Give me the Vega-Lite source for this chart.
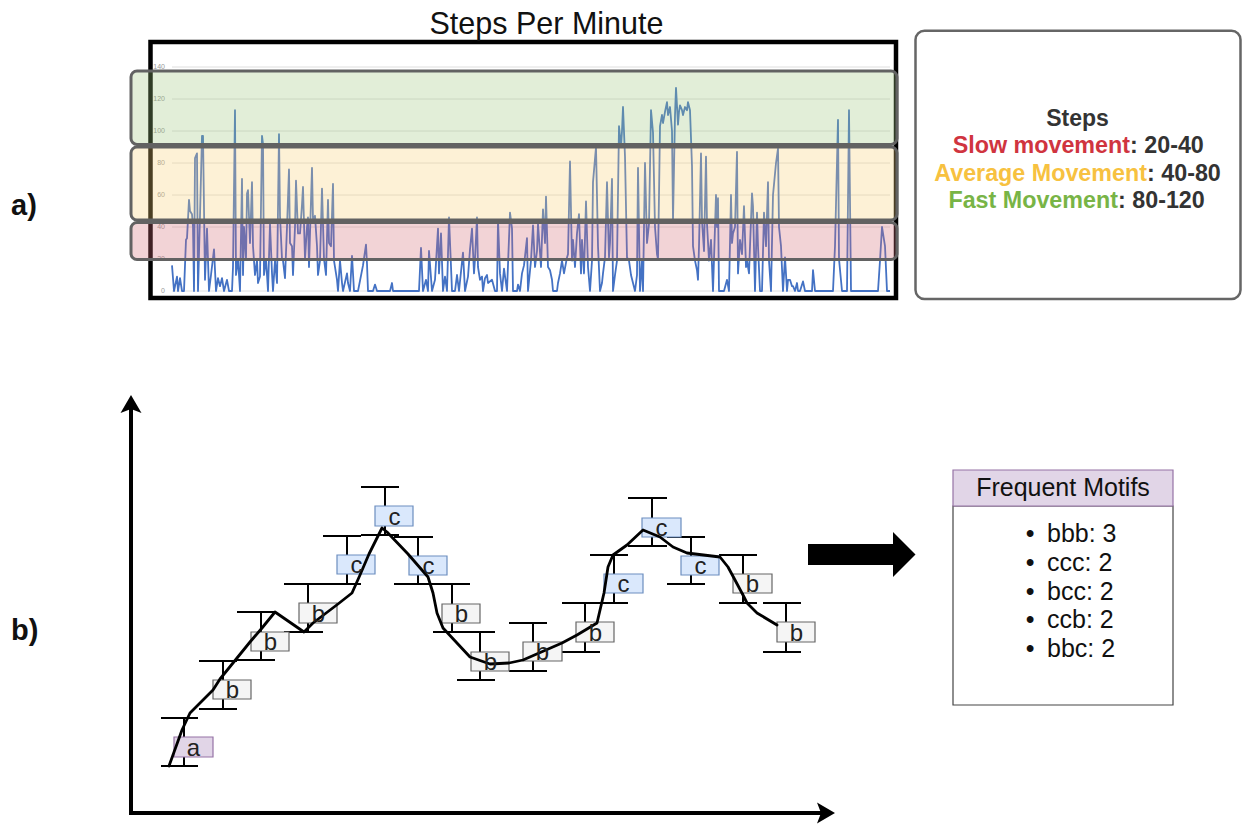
{
"$schema": "https://vega.github.io/schema/vega-lite/v6.json",
"width": 1244, "height": 824, "padding": 0, "autosize": {"type": "none"},
"background": "white",
"config": {"view": {"stroke": null}, "font": "Liberation Sans"},
"resolve": {"scale": {"x": "independent", "y": "independent", "color": "independent", "fill": "independent", "stroke": "independent"}},
"datasets": {
"steps": [
{"minute":0,"steps":16},{"minute":4,"steps":0},{"minute":10,"steps":9},{"minute":12,"steps":0},{"minute":16,"steps":8},{"minute":20,"steps":0},{"minute":24,"steps":0},{"minute":28,"steps":32},{"minute":30,"steps":33},{"minute":34,"steps":57},{"minute":36,"steps":50},{"minute":40,"steps":48},{"minute":42,"steps":40},{"minute":44,"steps":0},{"minute":46,"steps":83},{"minute":50,"steps":86},{"minute":52,"steps":0},{"minute":56,"steps":47},{"minute":60,"steps":97},{"minute":62,"steps":97},{"minute":66,"steps":7},{"minute":70,"steps":39},{"minute":74,"steps":0},{"minute":78,"steps":10},{"minute":84,"steps":26},{"minute":88,"steps":0},{"minute":92,"steps":8},{"minute":96,"steps":3},{"minute":100,"steps":8},{"minute":104,"steps":0},{"minute":110,"steps":7},{"minute":114,"steps":0},{"minute":120,"steps":0},{"minute":122,"steps":15},{"minute":126,"steps":113},{"minute":128,"steps":10},{"minute":132,"steps":20},{"minute":136,"steps":0},{"minute":140,"steps":70},{"minute":142,"steps":10},{"minute":144,"steps":40},{"minute":148,"steps":20},{"minute":150,"steps":61},{"minute":152,"steps":63},{"minute":156,"steps":30},{"minute":160,"steps":68},{"minute":162,"steps":28},{"minute":166,"steps":10},{"minute":170,"steps":19},{"minute":172,"steps":5},{"minute":176,"steps":9},{"minute":180,"steps":97},{"minute":182,"steps":92},{"minute":184,"steps":10},{"minute":188,"steps":20},{"minute":192,"steps":0},{"minute":196,"steps":42},{"minute":200,"steps":11},{"minute":202,"steps":0},{"minute":206,"steps":19},{"minute":210,"steps":5},{"minute":214,"steps":98},{"minute":216,"steps":47},{"minute":220,"steps":20},{"minute":222,"steps":19},{"minute":226,"steps":8},{"minute":230,"steps":40},{"minute":234,"steps":76},{"minute":236,"steps":30},{"minute":240,"steps":28},{"minute":242,"steps":10},{"minute":246,"steps":40},{"minute":248,"steps":69},{"minute":252,"steps":36},{"minute":256,"steps":36},{"minute":260,"steps":54},{"minute":262,"steps":65},{"minute":266,"steps":20},{"minute":270,"steps":40},{"minute":272,"steps":46},{"minute":274,"steps":15},{"minute":280,"steps":77},{"minute":282,"steps":44},{"minute":286,"steps":47},{"minute":290,"steps":28},{"minute":292,"steps":10},{"minute":296,"steps":19},{"minute":300,"steps":64},{"minute":304,"steps":20},{"minute":308,"steps":10},{"minute":312,"steps":57},{"minute":314,"steps":30},{"minute":318,"steps":28},{"minute":322,"steps":67},{"minute":324,"steps":19},{"minute":330,"steps":7},{"minute":332,"steps":0},{"minute":336,"steps":19},{"minute":340,"steps":5},{"minute":342,"steps":0},{"minute":350,"steps":11},{"minute":352,"steps":5},{"minute":356,"steps":0},{"minute":360,"steps":22},{"minute":364,"steps":0},{"minute":372,"steps":0},{"minute":382,"steps":16},{"minute":388,"steps":29},{"minute":390,"steps":17},{"minute":392,"steps":0},{"minute":402,"steps":0},{"minute":406,"steps":4},{"minute":410,"steps":0},{"minute":436,"steps":0},{"minute":440,"steps":5},{"minute":442,"steps":0},{"minute":494,"steps":0},{"minute":498,"steps":27},{"minute":502,"steps":0},{"minute":508,"steps":7},{"minute":512,"steps":0},{"minute":514,"steps":25},{"minute":520,"steps":0},{"minute":526,"steps":7},{"minute":532,"steps":39},{"minute":534,"steps":11},{"minute":538,"steps":36},{"minute":542,"steps":0},{"minute":546,"steps":9},{"minute":550,"steps":0},{"minute":554,"steps":46},{"minute":560,"steps":0},{"minute":566,"steps":0},{"minute":570,"steps":10},{"minute":574,"steps":0},{"minute":582,"steps":24},{"minute":586,"steps":0},{"minute":592,"steps":9},{"minute":596,"steps":26},{"minute":600,"steps":39},{"minute":604,"steps":11},{"minute":606,"steps":20},{"minute":610,"steps":46},{"minute":612,"steps":15},{"minute":616,"steps":7},{"minute":620,"steps":9},{"minute":622,"steps":0},{"minute":626,"steps":8},{"minute":630,"steps":10},{"minute":632,"steps":5},{"minute":640,"steps":7},{"minute":646,"steps":0},{"minute":650,"steps":0},{"minute":652,"steps":44},{"minute":656,"steps":11},{"minute":660,"steps":0},{"minute":664,"steps":14},{"minute":670,"steps":0},{"minute":676,"steps":49},{"minute":680,"steps":39},{"minute":682,"steps":0},{"minute":690,"steps":0},{"minute":692,"steps":4},{"minute":696,"steps":0},{"minute":700,"steps":11},{"minute":704,"steps":16},{"minute":710,"steps":33},{"minute":712,"steps":0},{"minute":718,"steps":19},{"minute":722,"steps":41},{"minute":726,"steps":15},{"minute":730,"steps":25},{"minute":732,"steps":42},{"minute":738,"steps":15},{"minute":742,"steps":51},{"minute":746,"steps":30},{"minute":748,"steps":59},{"minute":752,"steps":15},{"minute":756,"steps":13},{"minute":760,"steps":7},{"minute":762,"steps":0},{"minute":770,"steps":0},{"minute":772,"steps":5},{"minute":776,"steps":11},{"minute":780,"steps":19},{"minute":784,"steps":11},{"minute":790,"steps":21},{"minute":792,"steps":23},{"minute":796,"steps":81},{"minute":800,"steps":19},{"minute":802,"steps":32},{"minute":806,"steps":15},{"minute":810,"steps":36},{"minute":814,"steps":48},{"minute":818,"steps":11},{"minute":820,"steps":32},{"minute":824,"steps":11},{"minute":828,"steps":56},{"minute":832,"steps":15},{"minute":836,"steps":0},{"minute":840,"steps":19},{"minute":842,"steps":68},{"minute":848,"steps":90},{"minute":852,"steps":28},{"minute":856,"steps":0},{"minute":860,"steps":5},{"minute":862,"steps":11},{"minute":866,"steps":21},{"minute":870,"steps":68},{"minute":874,"steps":21},{"minute":876,"steps":30},{"minute":880,"steps":70},{"minute":882,"steps":0},{"minute":886,"steps":10},{"minute":890,"steps":19},{"minute":894,"steps":103},{"minute":898,"steps":90},{"minute":900,"steps":100},{"minute":902,"steps":115},{"minute":906,"steps":84},{"minute":910,"steps":21},{"minute":914,"steps":19},{"minute":918,"steps":10},{"minute":922,"steps":5},{"minute":926,"steps":0},{"minute":930,"steps":10},{"minute":932,"steps":77},{"minute":936,"steps":0},{"minute":940,"steps":19},{"minute":942,"steps":0},{"minute":946,"steps":80},{"minute":950,"steps":30},{"minute":954,"steps":42},{"minute":958,"steps":113},{"minute":962,"steps":99},{"minute":966,"steps":40},{"minute":970,"steps":23},{"minute":972,"steps":20},{"minute":974,"steps":60},{"minute":976,"steps":103},{"minute":980,"steps":110},{"minute":982,"steps":105},{"minute":986,"steps":112},{"minute":990,"steps":118},{"minute":992,"steps":110},{"minute":996,"steps":115},{"minute":1000,"steps":100},{"minute":1002,"steps":44},{"minute":1006,"steps":110},{"minute":1008,"steps":127},{"minute":1012,"steps":104},{"minute":1014,"steps":112},{"minute":1016,"steps":116},{"minute":1020,"steps":113},{"minute":1022,"steps":110},{"minute":1026,"steps":115},{"minute":1030,"steps":113},{"minute":1032,"steps":118},{"minute":1036,"steps":113},{"minute":1040,"steps":78},{"minute":1042,"steps":28},{"minute":1046,"steps":19},{"minute":1050,"steps":13},{"minute":1052,"steps":7},{"minute":1054,"steps":28},{"minute":1058,"steps":86},{"minute":1060,"steps":44},{"minute":1064,"steps":25},{"minute":1068,"steps":84},{"minute":1070,"steps":42},{"minute":1074,"steps":19},{"minute":1078,"steps":32},{"minute":1082,"steps":0},{"minute":1088,"steps":60},{"minute":1090,"steps":40},{"minute":1092,"steps":58},{"minute":1094,"steps":0},{"minute":1104,"steps":0},{"minute":1110,"steps":7},{"minute":1114,"steps":0},{"minute":1118,"steps":60},{"minute":1120,"steps":30},{"minute":1122,"steps":36},{"minute":1126,"steps":40},{"minute":1130,"steps":87},{"minute":1132,"steps":11},{"minute":1136,"steps":32},{"minute":1140,"steps":23},{"minute":1144,"steps":53},{"minute":1148,"steps":15},{"minute":1150,"steps":19},{"minute":1154,"steps":11},{"minute":1160,"steps":61},{"minute":1162,"steps":53},{"minute":1166,"steps":0},{"minute":1170,"steps":49},{"minute":1172,"steps":28},{"minute":1176,"steps":0},{"minute":1180,"steps":0},{"minute":1184,"steps":49},{"minute":1188,"steps":28},{"minute":1192,"steps":68},{"minute":1194,"steps":19},{"minute":1198,"steps":0},{"minute":1202,"steps":60},{"minute":1208,"steps":80},{"minute":1212,"steps":89},{"minute":1214,"steps":40},{"minute":1218,"steps":28},{"minute":1222,"steps":0},{"minute":1226,"steps":21},{"minute":1230,"steps":0},{"minute":1232,"steps":7},{"minute":1236,"steps":7},{"minute":1240,"steps":3},{"minute":1242,"steps":3},{"minute":1246,"steps":0},{"minute":1250,"steps":5},{"minute":1252,"steps":0},{"minute":1256,"steps":0},{"minute":1262,"steps":6},{"minute":1266,"steps":0},{"minute":1280,"steps":0},{"minute":1282,"steps":13},{"minute":1286,"steps":0},{"minute":1322,"steps":0},{"minute":1326,"steps":28},{"minute":1332,"steps":107},{"minute":1334,"steps":20},{"minute":1340,"steps":0},{"minute":1350,"steps":0},{"minute":1354,"steps":113},{"minute":1358,"steps":0},{"minute":1412,"steps":0},{"minute":1416,"steps":19},{"minute":1420,"steps":40},{"minute":1422,"steps":36},{"minute":1426,"steps":28},{"minute":1430,"steps":0},{"minute":1436,"steps":0}
],
"gridlines": [{"steps":0},{"steps":20},{"steps":40},{"steps":60},{"steps":80},{"steps":100},{"steps":120},{"steps":140}],
"bands": [
{"speed":"fast","low":91.6,"high":137.5},
{"speed":"average","low":44.4,"high":90},
{"speed":"slow","low":19.7,"high":42.8}
],
"symbols": [
{"letter":"a","t1":43,"t2":82,"b1":56,"b2":76,"et":53,"elo":47,"ehi":95,"c1":30,"c2":67},
{"letter":"b","t1":82,"t2":120,"b1":114,"b2":133,"et":92,"elo":104,"ehi":152,"c1":68,"c2":106},
{"letter":"b","t1":120,"t2":158,"b1":162,"b2":181,"et":130,"elo":153,"ehi":201,"c1":106,"c2":144},
{"letter":"b","t1":168,"t2":206,"b1":190,"b2":210,"et":177,"elo":181,"ehi":229,"c1":153,"c2":192},
{"letter":"c","t1":206,"t2":244,"b1":239,"b2":258,"et":216,"elo":229,"ehi":277,"c1":192,"c2":230},
{"letter":"c","t1":244,"t2":282,"b1":287,"b2":307,"et":254,"elo":278,"ehi":326,"c1":230,"c2":268},
{"letter":"c","t1":278,"t2":316,"b1":238,"b2":257,"et":287,"elo":229,"ehi":276,"c1":263,"c2":302},
{"letter":"b","t1":311,"t2":349,"b1":190,"b2":209,"et":321,"elo":181,"ehi":229,"c1":302,"c2":339},
{"letter":"b","t1":340,"t2":378,"b1":142,"b2":161,"et":349,"elo":133,"ehi":181,"c1":326,"c2":364},
{"letter":"b","t1":392,"t2":431,"b1":152,"b2":171,"et":402,"elo":142,"ehi":190,"c1":378,"c2":416},
{"letter":"b","t1":445,"t2":483,"b1":171,"b2":191,"et":454,"elo":161,"ehi":210,"c1":431,"c2":469},
{"letter":"c","t1":473,"t2":512,"b1":220,"b2":239,"et":483,"elo":210,"ehi":258,"c1":459,"c2":497},
{"letter":"c","t1":511,"t2":550,"b1":276,"b2":295,"et":521,"elo":267,"ehi":315,"c1":497,"c2":536},
{"letter":"c","t1":550,"t2":588,"b1":238,"b2":257,"et":560,"elo":229,"ehi":276,"c1":536,"c2":574},
{"letter":"b","t1":602,"t2":641,"b1":220,"b2":239,"et":612,"elo":210,"ehi":258,"c1":588,"c2":626},
{"letter":"b","t1":646,"t2":684,"b1":171,"b2":191,"et":655,"elo":161,"ehi":210,"c1":632,"c2":670}
],
"curve": [
{"t":38,"v":47},{"t":51,"v":83},{"t":59,"v":100},{"t":82,"v":123},{"t":89,"v":134},{"t":119,"v":171},{"t":131,"v":185},{"t":144,"v":201},{"t":173,"v":181},{"t":182,"v":190},{"t":207,"v":209},{"t":221,"v":220},{"t":229,"v":238},{"t":238,"v":259},{"t":251,"v":285},{"t":256,"v":281},{"t":277,"v":259},{"t":297,"v":236},{"t":302,"v":220},{"t":306,"v":200},{"t":312,"v":185},{"t":339,"v":156},{"t":359,"v":149},{"t":378,"v":150},{"t":392,"v":153},{"t":431,"v":170},{"t":446,"v":178},{"t":466,"v":190},{"t":473,"v":220},{"t":477,"v":246},{"t":482,"v":258},{"t":496,"v":268},{"t":512,"v":283},{"t":529,"v":276},{"t":542,"v":266},{"t":556,"v":260},{"t":589,"v":256},{"t":597,"v":246},{"t":604,"v":233},{"t":612,"v":218},{"t":616,"v":210},{"t":626,"v":200},{"t":646,"v":188}
],
"motifs": [
{"motif":"bbb","count":3,"label":"bbb: 3"},
{"motif":"ccc","count":2,"label":"ccc: 2"},
{"motif":"bcc","count":2,"label":"bcc: 2"},
{"motif":"ccb","count":2,"label":"ccb: 2"},
{"motif":"bbc","count":2,"label":"bbc: 2"}
]
},
"layer": [
{"data":{"name":"gridlines"},"mark":{"type":"rule","color":"#dedede","strokeWidth":1},
 "encoding":{"x":{"datum":0,"type":"quantitative","scale":{"domain":[0,1436],"range":[172,890],"nice":false,"zero":false},"axis":null},"x2":{"datum":1436},
 "y":{"field":"steps","type":"quantitative","scale":{"domain":[0,140],"range":[291,67],"nice":false,"zero":false},"axis":null}}},
{"data":{"name":"gridlines"},"mark":{"type":"text","align":"right","baseline":"middle","fontSize":7,"color":"#999","dx":-7},
 "encoding":{"x":{"datum":0,"type":"quantitative","scale":{"domain":[0,1436],"range":[172,890],"nice":false,"zero":false},"axis":null},
 "y":{"field":"steps","type":"quantitative","scale":{"domain":[0,140],"range":[291,67],"nice":false,"zero":false},"axis":null},
 "text":{"field":"steps","type":"quantitative"}}},
{"data":{"name":"steps"},"mark":{"type":"line","color":"#4472c4","strokeWidth":1.8,"strokeJoin":"round"},
 "encoding":{"x":{"field":"minute","type":"quantitative","scale":{"domain":[0,1436],"range":[172,890],"nice":false,"zero":false},"axis":null},
 "y":{"field":"steps","type":"quantitative","scale":{"domain":[0,140],"range":[291,67],"nice":false,"zero":false},"axis":null}}},
{"data":{"values":[{"item":"chart border"}]},"mark":{"type":"rect","filled":false,"color":"#000","strokeWidth":4.5},
 "encoding":{"x":{"datum":-43,"type":"quantitative","scale":{"domain":[0,1436],"range":[172,890],"nice":false,"zero":false},"axis":null},"x2":{"datum":1448},
 "y":{"datum":155.6,"type":"quantitative","scale":{"domain":[0,140],"range":[291,67],"nice":false,"zero":false},"axis":null},"y2":{"datum":-4.4}}},
{"data":{"name":"bands"},"mark":{"type":"rect","cornerRadius":6,"fillOpacity":0.3,"stroke":"#626262","strokeWidth":3},
 "encoding":{"x":{"datum":-82,"type":"quantitative","scale":{"domain":[0,1436],"range":[172,890],"nice":false,"zero":false},"axis":null},"x2":{"datum":1450},
 "y":{"field":"low","type":"quantitative","scale":{"domain":[0,140],"range":[291,67],"nice":false,"zero":false},"axis":null},"y2":{"field":"high"},
 "fill":{"field":"speed","type":"nominal","scale":{"domain":["fast","average","slow"],"range":["#9ec67d","#f8d076","#d46c76"]},"legend":null}}},
{"data":{"values":[{"label":"Steps Per Minute"}]},"mark":{"type":"text","align":"center","baseline":"alphabetic","fontSize":30.5,"color":"#111"},
 "encoding":{"x":{"datum":546.5,"type":"quantitative","scale":{"domain":[0,1244],"range":[0,1244],"nice":false,"zero":false},"axis":null},
 "y":{"datum":33.5,"type":"quantitative","scale":{"domain":[0,824],"range":[0,824],"nice":false,"zero":false},"axis":null},
 "text":{"field":"label"}}},
{"data":{"values":[{"panel":"a)"},{"panel":"b)"}]},"mark":{"type":"text","align":"left","baseline":"alphabetic","fontSize":29,"fontWeight":"bold","color":"#111"},
 "encoding":{"x":{"datum":11,"type":"quantitative","scale":{"domain":[0,1244],"range":[0,1244],"nice":false,"zero":false},"axis":null},
 "y":{"field":"panel","type":"nominal","scale":{"type":"point","domain":["a)","b)"],"range":[215,640],"padding":0},"axis":null},
 "text":{"field":"panel"}}},
{"data":{"values":[{"item":"legend box"}]},"mark":{"type":"rect","cornerRadius":9,"fill":"#fff","stroke":"#666","strokeWidth":2.5},
 "encoding":{"x":{"datum":915.5,"type":"quantitative","scale":{"domain":[0,1244],"range":[0,1244],"nice":false,"zero":false},"axis":null},"x2":{"datum":1240.5},
 "y":{"datum":30.7,"type":"quantitative","scale":{"domain":[0,824],"range":[0,824],"nice":false,"zero":false},"axis":null},"y2":{"datum":299}}},
{"data":{"values":[{"label":"Steps"}]},"mark":{"type":"text","align":"center","baseline":"alphabetic","fontSize":23,"fontWeight":"bold","color":"#333"},
 "encoding":{"x":{"datum":1077.5,"type":"quantitative","scale":{"domain":[0,1244],"range":[0,1244],"nice":false,"zero":false},"axis":null},
 "y":{"datum":126,"type":"quantitative","scale":{"domain":[0,824],"range":[0,824],"nice":false,"zero":false},"axis":null},
 "text":{"field":"label"}}},
{"data":{"values":[{"label":"Slow movement","bounds":": 20-40"}]},"mark":{"type":"text","align":"right","baseline":"alphabetic","fontSize":23.3,"fontWeight":"bold","color":"#d0343f"},
 "encoding":{"x":{"datum":1130,"type":"quantitative","scale":{"domain":[0,1244],"range":[0,1244],"nice":false,"zero":false},"axis":null},
 "y":{"datum":153,"type":"quantitative","scale":{"domain":[0,824],"range":[0,824],"nice":false,"zero":false},"axis":null},
 "text":{"field":"label"}}},
{"data":{"values":[{"label":"Slow movement","bounds":": 20-40"}]},"mark":{"type":"text","align":"left","baseline":"alphabetic","fontSize":23.3,"fontWeight":"bold","color":"#333"},
 "encoding":{"x":{"datum":1130,"type":"quantitative","scale":{"domain":[0,1244],"range":[0,1244],"nice":false,"zero":false},"axis":null},
 "y":{"datum":153,"type":"quantitative","scale":{"domain":[0,824],"range":[0,824],"nice":false,"zero":false},"axis":null},
 "text":{"field":"bounds"}}},
{"data":{"values":[{"label":"Average Movement","bounds":": 40-80"}]},"mark":{"type":"text","align":"right","baseline":"alphabetic","fontSize":23.3,"fontWeight":"bold","color":"#f7c140"},
 "encoding":{"x":{"datum":1147,"type":"quantitative","scale":{"domain":[0,1244],"range":[0,1244],"nice":false,"zero":false},"axis":null},
 "y":{"datum":181,"type":"quantitative","scale":{"domain":[0,824],"range":[0,824],"nice":false,"zero":false},"axis":null},
 "text":{"field":"label"}}},
{"data":{"values":[{"label":"Average Movement","bounds":": 40-80"}]},"mark":{"type":"text","align":"left","baseline":"alphabetic","fontSize":23.3,"fontWeight":"bold","color":"#333"},
 "encoding":{"x":{"datum":1147,"type":"quantitative","scale":{"domain":[0,1244],"range":[0,1244],"nice":false,"zero":false},"axis":null},
 "y":{"datum":181,"type":"quantitative","scale":{"domain":[0,824],"range":[0,824],"nice":false,"zero":false},"axis":null},
 "text":{"field":"bounds"}}},
{"data":{"values":[{"label":"Fast Movement","bounds":": 80-120"}]},"mark":{"type":"text","align":"right","baseline":"alphabetic","fontSize":23.3,"fontWeight":"bold","color":"#78b446"},
 "encoding":{"x":{"datum":1118,"type":"quantitative","scale":{"domain":[0,1244],"range":[0,1244],"nice":false,"zero":false},"axis":null},
 "y":{"datum":208,"type":"quantitative","scale":{"domain":[0,824],"range":[0,824],"nice":false,"zero":false},"axis":null},
 "text":{"field":"label"}}},
{"data":{"values":[{"label":"Fast Movement","bounds":": 80-120"}]},"mark":{"type":"text","align":"left","baseline":"alphabetic","fontSize":23.3,"fontWeight":"bold","color":"#333"},
 "encoding":{"x":{"datum":1118,"type":"quantitative","scale":{"domain":[0,1244],"range":[0,1244],"nice":false,"zero":false},"axis":null},
 "y":{"datum":208,"type":"quantitative","scale":{"domain":[0,824],"range":[0,824],"nice":false,"zero":false},"axis":null},
 "text":{"field":"bounds"}}},
{"data":{"values":[{"item":"value axis"}]},"mark":{"type":"rule","color":"#000","strokeWidth":4},
 "encoding":{"x":{"datum":0,"type":"quantitative","scale":{"domain":[0,704],"range":[131,835],"nice":false,"zero":false},"axis":null},
 "y":{"datum":-2,"type":"quantitative","scale":{"domain":[0,418],"range":[813,395],"nice":false,"zero":false},"axis":null},"y2":{"datum":404}}},
{"data":{"values":[{"item":"time axis"}]},"mark":{"type":"rule","color":"#000","strokeWidth":4},
 "encoding":{"x":{"datum":-2,"type":"quantitative","scale":{"domain":[0,704],"range":[131,835],"nice":false,"zero":false},"axis":null},"x2":{"datum":690},
 "y":{"datum":0,"type":"quantitative","scale":{"domain":[0,418],"range":[813,395],"nice":false,"zero":false},"axis":null}}},
{"data":{"values":[{"item":"value axis head"}]},"mark":{"type":"point","shape":"M0,-1L1.05,0.8L0,0.4L-1.05,0.8Z","size":400,"filled":true,"color":"#000","opacity":1},
 "encoding":{"x":{"datum":0,"type":"quantitative","scale":{"domain":[0,704],"range":[131,835],"nice":false,"zero":false},"axis":null},
 "y":{"datum":408,"type":"quantitative","scale":{"domain":[0,418],"range":[813,395],"nice":false,"zero":false},"axis":null}}},
{"data":{"values":[{"item":"time axis head"}]},"mark":{"type":"point","shape":"M1,0L-0.8,1.05L-0.4,0L-0.8,-1.05Z","size":400,"filled":true,"color":"#000","opacity":1},
 "encoding":{"x":{"datum":694,"type":"quantitative","scale":{"domain":[0,704],"range":[131,835],"nice":false,"zero":false},"axis":null},
 "y":{"datum":0,"type":"quantitative","scale":{"domain":[0,418],"range":[813,395],"nice":false,"zero":false},"axis":null}}},
{"data":{"name":"symbols"},"mark":{"type":"rule","color":"#000","strokeWidth":2},
 "encoding":{"x":{"field":"et","type":"quantitative","scale":{"domain":[0,704],"range":[131,835],"nice":false,"zero":false},"axis":null},
 "y":{"field":"elo","type":"quantitative","scale":{"domain":[0,418],"range":[813,395],"nice":false,"zero":false},"axis":null},"y2":{"field":"ehi"}}},
{"data":{"name":"symbols"},"mark":{"type":"rule","color":"#000","strokeWidth":2},
 "encoding":{"x":{"field":"c1","type":"quantitative","scale":{"domain":[0,704],"range":[131,835],"nice":false,"zero":false},"axis":null},"x2":{"field":"c2"},
 "y":{"field":"ehi","type":"quantitative","scale":{"domain":[0,418],"range":[813,395],"nice":false,"zero":false},"axis":null}}},
{"data":{"name":"symbols"},"mark":{"type":"rule","color":"#000","strokeWidth":2},
 "encoding":{"x":{"field":"c1","type":"quantitative","scale":{"domain":[0,704],"range":[131,835],"nice":false,"zero":false},"axis":null},"x2":{"field":"c2"},
 "y":{"field":"elo","type":"quantitative","scale":{"domain":[0,418],"range":[813,395],"nice":false,"zero":false},"axis":null}}},
{"data":{"name":"symbols"},"mark":{"type":"rect","strokeWidth":1.2},
 "encoding":{"x":{"field":"t1","type":"quantitative","scale":{"domain":[0,704],"range":[131,835],"nice":false,"zero":false},"axis":null},"x2":{"field":"t2"},
 "y":{"field":"b1","type":"quantitative","scale":{"domain":[0,418],"range":[813,395],"nice":false,"zero":false},"axis":null},"y2":{"field":"b2"},
 "fill":{"field":"letter","type":"nominal","scale":{"domain":["a","b","c"],"range":["#e1d5e7","#f5f5f5","#dae8fc"]},"legend":null},
 "stroke":{"field":"letter","type":"nominal","scale":{"domain":["a","b","c"],"range":["#9673a6","#666666","#6c8ebf"]},"legend":null}}},
{"data":{"name":"curve"},"mark":{"type":"line","color":"#000","strokeWidth":2.8,"strokeJoin":"round","strokeCap":"round"},
 "encoding":{"x":{"field":"t","type":"quantitative","scale":{"domain":[0,704],"range":[131,835],"nice":false,"zero":false},"axis":null},
 "y":{"field":"v","type":"quantitative","scale":{"domain":[0,418],"range":[813,395],"nice":false,"zero":false},"axis":null}}},
{"data":{"name":"symbols"},"mark":{"type":"text","align":"center","baseline":"alphabetic","fontSize":24,"color":"#222","dx":19.5,"dy":-1},
 "encoding":{"x":{"field":"t1","type":"quantitative","scale":{"domain":[0,704],"range":[131,835],"nice":false,"zero":false},"axis":null},
 "y":{"field":"b1","type":"quantitative","scale":{"domain":[0,418],"range":[813,395],"nice":false,"zero":false},"axis":null},
 "text":{"field":"letter"}}},
{"data":{"values":[{"item":"arrow body"}]},"mark":{"type":"rect","color":"#000"},
 "encoding":{"x":{"datum":808,"type":"quantitative","scale":{"domain":[0,1244],"range":[0,1244],"nice":false,"zero":false},"axis":null},"x2":{"datum":894},
 "y":{"datum":544,"type":"quantitative","scale":{"domain":[0,824],"range":[0,824],"nice":false,"zero":false},"axis":null},"y2":{"datum":565}}},
{"data":{"values":[{"item":"arrow head"}]},"mark":{"type":"point","shape":"M0,-1L1,0L0,1Z","size":2025,"filled":true,"color":"#000","opacity":1},
 "encoding":{"x":{"datum":893,"type":"quantitative","scale":{"domain":[0,1244],"range":[0,1244],"nice":false,"zero":false},"axis":null},
 "y":{"datum":554.5,"type":"quantitative","scale":{"domain":[0,824],"range":[0,824],"nice":false,"zero":false},"axis":null}}},
{"data":{"values":[{"item":"motif list"}]},"mark":{"type":"rect","fill":"#fff","stroke":"#444","strokeWidth":1.2},
 "encoding":{"x":{"datum":953,"type":"quantitative","scale":{"domain":[0,1244],"range":[0,1244],"nice":false,"zero":false},"axis":null},"x2":{"datum":1173},
 "y":{"datum":506,"type":"quantitative","scale":{"domain":[0,824],"range":[0,824],"nice":false,"zero":false},"axis":null},"y2":{"datum":705}}},
{"data":{"values":[{"item":"motif header"}]},"mark":{"type":"rect","fill":"#e1d5e7","stroke":"#9673a6","strokeWidth":1.2},
 "encoding":{"x":{"datum":953,"type":"quantitative","scale":{"domain":[0,1244],"range":[0,1244],"nice":false,"zero":false},"axis":null},"x2":{"datum":1173},
 "y":{"datum":470,"type":"quantitative","scale":{"domain":[0,824],"range":[0,824],"nice":false,"zero":false},"axis":null},"y2":{"datum":506}}},
{"data":{"values":[{"label":"Frequent Motifs"}]},"mark":{"type":"text","align":"center","baseline":"alphabetic","fontSize":25,"color":"#111"},
 "encoding":{"x":{"datum":1063,"type":"quantitative","scale":{"domain":[0,1244],"range":[0,1244],"nice":false,"zero":false},"axis":null},
 "y":{"datum":496,"type":"quantitative","scale":{"domain":[0,824],"range":[0,824],"nice":false,"zero":false},"axis":null},
 "text":{"field":"label"}}},
{"data":{"name":"motifs"},"mark":{"type":"text","align":"center","baseline":"alphabetic","fontSize":25,"color":"#111"},
 "encoding":{"x":{"datum":1030,"type":"quantitative","scale":{"domain":[0,1244],"range":[0,1244],"nice":false,"zero":false},"axis":null},
 "y":{"field":"motif","type":"nominal","scale":{"type":"point","domain":["bbb","ccc","bcc","ccb","bbc"],"range":[542,657],"padding":0},"axis":null},
 "text":{"value":"•"}}},
{"data":{"name":"motifs"},"mark":{"type":"text","align":"left","baseline":"alphabetic","fontSize":25,"color":"#111"},
 "encoding":{"x":{"datum":1047,"type":"quantitative","scale":{"domain":[0,1244],"range":[0,1244],"nice":false,"zero":false},"axis":null},
 "y":{"field":"motif","type":"nominal","scale":{"type":"point","domain":["bbb","ccc","bcc","ccb","bbc"],"range":[542,657],"padding":0},"axis":null},
 "text":{"field":"label"}}}
]
}
